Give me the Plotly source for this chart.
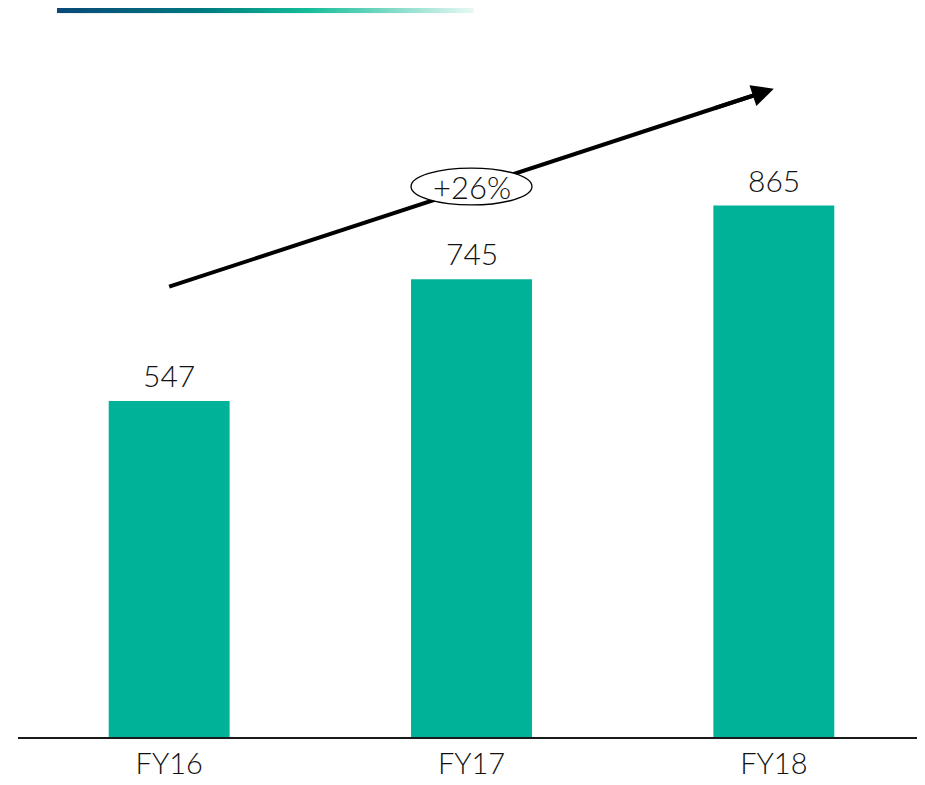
import plotly.graph_objects as go

categories = ["FY16", "FY17", "FY18"]
values = [547, 745, 865]
growth_label = "+26%"

BAR_COLOR = "#00b398"
FONT = "Lato"
TEXT_COLOR = "#111111"

fig = go.Figure()
fig.add_trace(go.Bar(
    x=categories, y=values, width=0.4,
    marker=dict(color=BAR_COLOR, line=dict(width=0)),
    hoverinfo="skip",
))

# gradient header bar
def lerp(c1, c2, t):
    return tuple(round(a + (b - a) * t) for a, b in zip(c1, c2))

stops = [(0.0, (10, 72, 120)), (0.35, (0, 122, 128)), (0.6, (20, 188, 152)), (1.0, (232, 248, 244))]
def grad(t):
    for i in range(len(stops) - 1):
        t0, c0 = stops[i]
        t1, c1 = stops[i + 1]
        if t <= t1:
            return lerp(c0, c1, (t - t0) / (t1 - t0))
    return stops[-1][1]

N = 100
gx0, gx1 = 0.043, 0.502
shapes = []
for i in range(N):
    t = (i + 0.5) / N
    c = grad(t)
    x0 = gx0 + (gx1 - gx0) * i / N
    x1 = min(gx1, gx0 + (gx1 - gx0) * (i + 2) / N)
    shapes.append(dict(type="rect", xref="paper", yref="paper",
                       x0=x0, x1=x1, y0=1.0097, y1=1.0167, line=dict(width=0),
                       fillcolor="rgb(%d,%d,%d)" % c, layer="above"))

# trend arrow line (drawn before ellipse so ellipse covers it)
ARROW_TAIL = (0, 733)
ARROW_HEAD = (2, 1055)
shapes.append(dict(type="line", xref="x", yref="y",
                   x0=ARROW_TAIL[0], y0=ARROW_TAIL[1],
                   x1=ARROW_TAIL[0] + (ARROW_HEAD[0] - ARROW_TAIL[0]) * 0.97,
                   y1=ARROW_TAIL[1] + (ARROW_HEAD[1] - ARROW_TAIL[1]) * 0.97,
                   line=dict(color="black", width=4), layer="above"))

# ellipse around growth label
shapes.append(dict(type="circle", xref="x", yref="y", x0=0.8, x1=1.2, y0=866, y1=926,
                   fillcolor="white", line=dict(color="black", width=1.3), layer="above"))

annotations = [
    dict(x=ARROW_HEAD[0], y=ARROW_HEAD[1],
         ax=ARROW_TAIL[0] + (ARROW_HEAD[0] - ARROW_TAIL[0]) * 0.9,
         ay=ARROW_TAIL[1] + (ARROW_HEAD[1] - ARROW_TAIL[1]) * 0.9,
         xref="x", yref="y", axref="x", ayref="y",
         showarrow=True, arrowhead=2, arrowsize=1.1, arrowwidth=4, arrowcolor="black",
         text=""),
    dict(x=1, y=896, xref="x", yref="y", text=growth_label, showarrow=False,
         font=dict(family=FONT, size=31, color=TEXT_COLOR, weight=300)),
]
for c, v in zip(categories, values):
    annotations.append(dict(x=c, y=v, xref="x", yref="y", text=str(v), showarrow=False,
                            yanchor="bottom", yshift=6,
                            font=dict(family=FONT, size=30, color=TEXT_COLOR, weight=300)))

fig.update_layout(
    width=925, height=785,
    margin=dict(l=10, r=8, t=12, b=56),
    paper_bgcolor="white", plot_bgcolor="white",
    showlegend=False,
    shapes=shapes,
    annotations=annotations,
    xaxis=dict(showline=True, linecolor="#1a1a1a", linewidth=1.5, showgrid=False,
               ticks="", tickfont=dict(family=FONT, size=29, color=TEXT_COLOR, weight=300),
               fixedrange=True),
    yaxis=dict(range=[0, 1167], visible=False, showgrid=False, zeroline=False),
)

fig.write_html("out.html")
